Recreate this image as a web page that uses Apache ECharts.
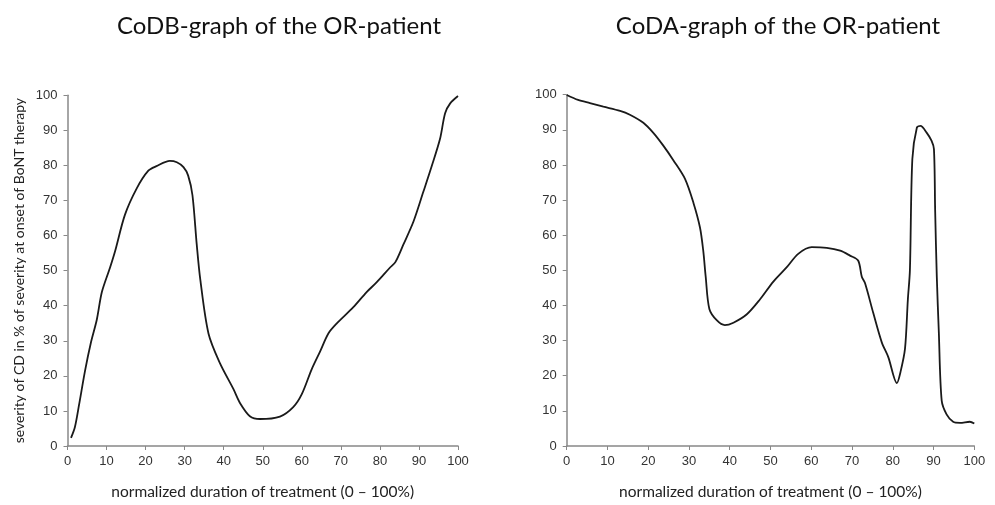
<!DOCTYPE html>
<html>
<head>
<meta charset="utf-8">
<script src="https://cdn.jsdelivr.net/npm/echarts@6/dist/echarts.min.js"></script>
<style>
  html, body { margin: 0; padding: 0; background: #fff; }
  #chart { width: 995px; height: 505px; }
</style>
</head>
<body>
<div id="chart"></div>
<script>
// CoDB curve: [duration %, severity %]
const codbPoints = [
  [0.9, 2.3], [1.9, 5.4], [3, 12], [4.5, 21.5], [6, 29.5], [7.5, 36], [8.8, 43.9],
  [10.9, 50.9], [12.2, 55.6], [14.7, 65.9], [17.7, 73.4], [20.7, 78.5], [22.8, 79.8],
  [26.2, 81.3], [28, 80.9], [29.7, 79.5], [30.9, 77.1], [32, 71.5], [33.1, 57.4],
  [34, 47.5], [36.1, 32.1], [39, 23.7], [42.5, 16.2], [44.2, 12.2], [46.7, 8.5],
  [49.3, 7.7], [54.4, 8.4], [57.8, 11.1], [60, 14.8], [62.5, 21.8], [64.7, 27],
  [66.8, 32.1], [68.9, 34.9], [73.2, 39.6], [76.6, 43.9], [79.2, 46.7], [82.6, 50.9],
  [84, 52.5], [86, 57.4], [88.6, 64], [91.1, 72.4], [93.3, 79.9], [95.4, 87.6],
  [96.7, 94.9], [98, 97.7], [100, 99.8]
];

// CoDA curve
const codaPoints = [
  [0, 99.9], [2.8, 98.5], [5.7, 97.6], [9, 96.6], [13.1, 95.4], [15.5, 94.3],
  [18.8, 92], [21.2, 89.2], [23.7, 85.5], [26.2, 81.3], [29, 76.1], [31.1, 69.2],
  [32.7, 62.2], [33.5, 55.6], [34.1, 48.2], [35, 39], [36.8, 35.8], [38.8, 34.4],
  [40.9, 35.1], [44.2, 37.5], [47.4, 41.7], [50.7, 46.8], [54, 50.9], [56.8, 54.7],
  [60.1, 56.6], [63.8, 56.4], [67.1, 55.6], [69.5, 54.2], [71.5, 52.8], [72.4, 48.2],
  [73.2, 46.3], [75.2, 37.9], [77.3, 29.5], [78.9, 25.3], [81, 17.9], [81.9, 21.1],
  [83, 27.7], [83.7, 41.7], [84.2, 50], [84.8, 81.7], [85.9, 90.6], [86.8, 91.1],
  [88.3, 89.2], [89.5, 86.9], [90.1, 84.5], [90.4, 66.8], [90.8, 48.2], [91.3, 32.3],
  [92, 12.9], [93.2, 9], [94.8, 6.9], [96.5, 6.6], [98.9, 6.9], [100, 6.4]
];

const titles = ['CoDB-graph of the OR-patient', 'CoDA-graph of the OR-patient'];
const xName = 'normalized duration of treatment (0 \u2013 100%)';
const yName = 'severity of CD in % of severity at onset of BoNT therapy';

const axisLine = { lineStyle: { color: '#888', width: 1.5 } };
const axisTick = { show: true, length: 4, lineStyle: { color: '#888' } };
const tickLabel = { color: '#333', fontSize: 13, fontFamily: 'Liberation Sans, Arial, sans-serif' };

function xAxisFor(gridIndex) {
  return {
    type: 'value', gridIndex, min: 0, max: 100, interval: 10,
    name: xName, nameLocation: 'middle', nameGap: 38,
    nameTextStyle: { color: '#222', fontSize: 15.5, fontFamily: 'Lato, sans-serif' },
    axisLine, axisTick, axisLabel: { ...tickLabel, margin: 9 },
    splitLine: { show: false }
  };
}

function yAxisFor(gridIndex, withName) {
  return {
    type: 'value', gridIndex, min: 0, max: 100, interval: 10,
    name: withName ? yName : '', nameLocation: 'middle', nameGap: 41, nameRotate: 90,
    nameTextStyle: { color: '#222', fontSize: 14, fontFamily: 'Lato, sans-serif' },
    axisLine: { show: true, ...axisLine }, axisTick, axisLabel: { ...tickLabel, margin: 10 },
    splitLine: { show: false }
  };
}

const lineSeries = (data, idx) => ({
  type: 'line', xAxisIndex: idx, yAxisIndex: idx, data,
  smooth: 0.3, showSymbol: false, silent: true,
  lineStyle: { color: '#1a1a1a', width: 1.8 }
});

const chart = echarts.init(document.getElementById('chart'), null, { renderer: 'canvas' });
chart.setOption({
  backgroundColor: '#fff',
  animation: false,
  title: [
    { text: titles[0], left: 274, top: 9, textAlign: 'center',
      textStyle: { fontSize: 24, fontWeight: 'normal', color: '#111', fontFamily: 'Lato, sans-serif' } },
    { text: titles[1], left: 773, top: 9, textAlign: 'center',
      textStyle: { fontSize: 24, fontWeight: 'normal', color: '#111', fontFamily: 'Lato, sans-serif' } }
  ],
  grid: [
    { left: 67.5, right: 537, top: 95.3, bottom: 54 },
    { left: 566.7, right: 20.7, top: 94.7, bottom: 52.7 }
  ],
  xAxis: [xAxisFor(0), xAxisFor(1)],
  yAxis: [yAxisFor(0, true), yAxisFor(1, false)],
  series: [lineSeries(codbPoints, 0), lineSeries(codaPoints, 1)]
});
</script>
</body>
</html>
